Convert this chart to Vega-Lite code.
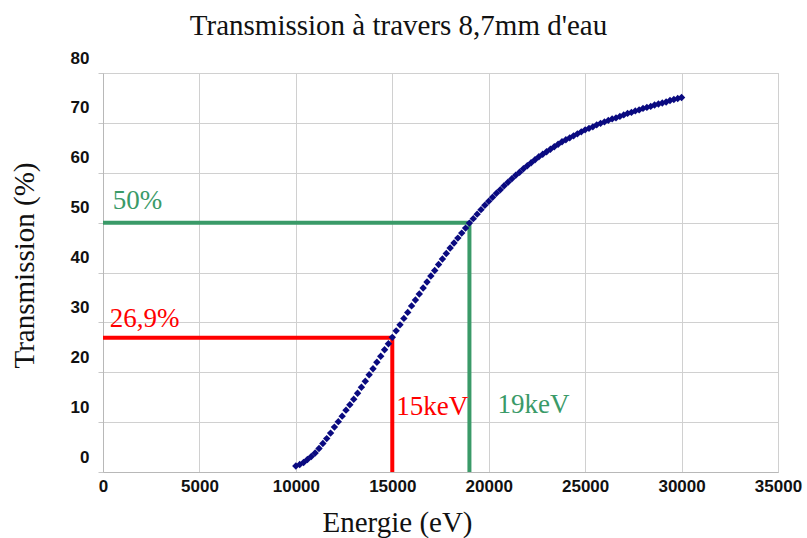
{
  "$schema": "https://vega.github.io/schema/vega-lite/v6.json",
  "width": 675,
  "height": 399,
  "autosize": "none",
  "padding": {"left": 103, "top": 73, "right": 29, "bottom": 66},
  "background": "white",
  "title": {
    "text": "Transmission à travers 8,7mm d'eau",
    "font": "Liberation Serif",
    "fontSize": 29,
    "fontWeight": "normal",
    "color": "#111111",
    "dx": -42,
    "dy": 23,
    "baseline": "alphabetic",
    "offset": 8
  },
  "config": {
    "view": {"stroke": "#c4c4c4", "strokeWidth": 1},
    "axis": {
      "gridColor": "#d0d0d0",
      "gridWidth": 1,
      "domainColor": "#b8b8b8",
      "labelFont": "Liberation Sans",
      "labelFontWeight": "bold",
      "labelFontSize": 17,
      "labelColor": "#111111",
      "labelFlush": false,
      "labelOverlap": false,
      "titleFont": "Liberation Serif",
      "titleFontWeight": "normal",
      "titleFontSize": 29,
      "titleColor": "#111111"
    }
  },
  "datasets": {
    "curve": [
      {"E": 10000, "T": 1.2}, {"E": 10200, "T": 1.5}, {"E": 10400, "T": 1.9}, {"E": 10600, "T": 2.5}, {"E": 10800, "T": 3.1},
      {"E": 11000, "T": 3.8}, {"E": 11200, "T": 4.7}, {"E": 11400, "T": 5.7}, {"E": 11600, "T": 6.7}, {"E": 11800, "T": 7.8},
      {"E": 12000, "T": 9.0}, {"E": 12200, "T": 10.1}, {"E": 12400, "T": 11.2}, {"E": 12600, "T": 12.4}, {"E": 12800, "T": 13.5},
      {"E": 13000, "T": 14.6}, {"E": 13200, "T": 15.8}, {"E": 13400, "T": 17.0}, {"E": 13600, "T": 18.2}, {"E": 13800, "T": 19.5},
      {"E": 14000, "T": 20.7}, {"E": 14200, "T": 22.0}, {"E": 14400, "T": 23.2}, {"E": 14600, "T": 24.5}, {"E": 14800, "T": 25.7},
      {"E": 15000, "T": 27.0}, {"E": 15200, "T": 28.3}, {"E": 15400, "T": 29.5}, {"E": 15600, "T": 30.8}, {"E": 15800, "T": 32.0},
      {"E": 16000, "T": 33.3}, {"E": 16200, "T": 34.5}, {"E": 16400, "T": 35.7}, {"E": 16600, "T": 36.9}, {"E": 16800, "T": 38.1},
      {"E": 17000, "T": 39.3}, {"E": 17200, "T": 40.4}, {"E": 17400, "T": 41.6}, {"E": 17600, "T": 42.7}, {"E": 17800, "T": 43.8},
      {"E": 18000, "T": 44.9}, {"E": 18200, "T": 45.9}, {"E": 18400, "T": 46.9}, {"E": 18600, "T": 47.9}, {"E": 18800, "T": 48.9},
      {"E": 19000, "T": 49.9}, {"E": 19200, "T": 50.8}, {"E": 19400, "T": 51.7}, {"E": 19600, "T": 52.6}, {"E": 19800, "T": 53.5},
      {"E": 20000, "T": 54.3}, {"E": 20200, "T": 55.1}, {"E": 20400, "T": 55.9}, {"E": 20600, "T": 56.6}, {"E": 20800, "T": 57.4},
      {"E": 21000, "T": 58.1}, {"E": 21200, "T": 58.8}, {"E": 21400, "T": 59.5}, {"E": 21600, "T": 60.1}, {"E": 21800, "T": 60.8},
      {"E": 22000, "T": 61.4}, {"E": 22200, "T": 62.0}, {"E": 22400, "T": 62.6}, {"E": 22600, "T": 63.2}, {"E": 22800, "T": 63.7},
      {"E": 23000, "T": 64.2}, {"E": 23200, "T": 64.7}, {"E": 23400, "T": 65.2}, {"E": 23600, "T": 65.7}, {"E": 23800, "T": 66.2},
      {"E": 24000, "T": 66.6}, {"E": 24200, "T": 67.0}, {"E": 24400, "T": 67.4}, {"E": 24600, "T": 67.8}, {"E": 24800, "T": 68.2},
      {"E": 25000, "T": 68.6}, {"E": 25200, "T": 68.9}, {"E": 25400, "T": 69.2}, {"E": 25600, "T": 69.6}, {"E": 25800, "T": 69.9},
      {"E": 26000, "T": 70.2}, {"E": 26200, "T": 70.5}, {"E": 26400, "T": 70.8}, {"E": 26600, "T": 71.0}, {"E": 26800, "T": 71.3},
      {"E": 27000, "T": 71.6}, {"E": 27200, "T": 71.9}, {"E": 27400, "T": 72.1}, {"E": 27600, "T": 72.4}, {"E": 27800, "T": 72.6},
      {"E": 28000, "T": 72.9}, {"E": 28200, "T": 73.1}, {"E": 28400, "T": 73.3}, {"E": 28600, "T": 73.6}, {"E": 28800, "T": 73.8},
      {"E": 29000, "T": 74.0}, {"E": 29200, "T": 74.2}, {"E": 29400, "T": 74.5}, {"E": 29600, "T": 74.7}, {"E": 29800, "T": 74.9},
      {"E": 30000, "T": 75.1}
    ],
    "guides": [
      {"g": "red", "E": 0, "T": 26.9, "o": 1},
      {"g": "red", "E": 15000, "T": 26.9, "o": 2},
      {"g": "red", "E": 15000, "T": 0, "o": 3},
      {"g": "green", "E": 0, "T": 50, "o": 1},
      {"g": "green", "E": 19000, "T": 50, "o": 2},
      {"g": "green", "E": 19000, "T": 0, "o": 3}
    ],
    "labels": [
      {"g": "green", "E": 500, "T": 52.8, "txt": "50%"},
      {"g": "red", "E": 350, "T": 29, "txt": "26,9%"},
      {"g": "red", "E": 15200, "T": 11.4, "txt": "15keV"},
      {"g": "green", "E": 20450, "T": 11.8, "txt": "19keV"}
    ]
  },
  "layer": [
    {
      "data": {"name": "guides"},
      "mark": {"type": "line", "strokeWidth": 4, "strokeCap": "butt", "strokeJoin": "miter"},
      "encoding": {
        "x": {
          "field": "E", "type": "quantitative",
          "scale": {"domain": [0, 35000], "nice": false, "zero": false},
          "axis": {
            "title": "Energie (eV)",
            "values": [0, 5000, 10000, 15000, 20000, 25000, 30000, 35000],
            "format": "d",
            "grid": true,
            "ticks": false,
            "labelPadding": 6,
            "titleX": 294,
            "titleY": 59,
            "titleAlign": "center",
            "titleBaseline": "alphabetic"
          }
        },
        "y": {
          "field": "T", "type": "quantitative",
          "scale": {"domain": [0, 80], "nice": false},
          "axis": {
            "title": "Transmission (%)",
            "values": [0, 10, 20, 30, 40, 50, 60, 70, 80],
            "grid": true,
            "ticks": true,
            "tickSize": 5,
            "tickColor": "#c8c8c8",
            "labelPadding": 9,
            "labelOffset": -15,
            "titleAngle": -90,
            "titleX": -70,
            "titleY": 192,
            "titleAlign": "center",
            "titleBaseline": "alphabetic"
          }
        },
        "detail": {"field": "g"},
        "order": {"field": "o", "type": "quantitative"},
        "color": {
          "field": "g", "type": "nominal",
          "scale": {"domain": ["red", "green"], "range": ["#ff0000", "#3a9a68"]},
          "legend": null
        }
      }
    },
    {
      "data": {"name": "curve"},
      "mark": {"type": "point", "shape": "diamond", "filled": true, "size": 55, "opacity": 1, "color": "#0a0a80"},
      "encoding": {
        "x": {"field": "E", "type": "quantitative"},
        "y": {"field": "T", "type": "quantitative"}
      }
    },
    {
      "data": {"name": "labels"},
      "mark": {"type": "text", "font": "Liberation Serif", "fontSize": 27, "align": "left", "baseline": "alphabetic"},
      "encoding": {
        "x": {"field": "E", "type": "quantitative"},
        "y": {"field": "T", "type": "quantitative"},
        "text": {"field": "txt"},
        "color": {
          "field": "g", "type": "nominal",
          "scale": {"domain": ["red", "green"], "range": ["#ee1111", "#1e8c2a"]},
          "legend": null
        }
      }
    }
  ]
}
